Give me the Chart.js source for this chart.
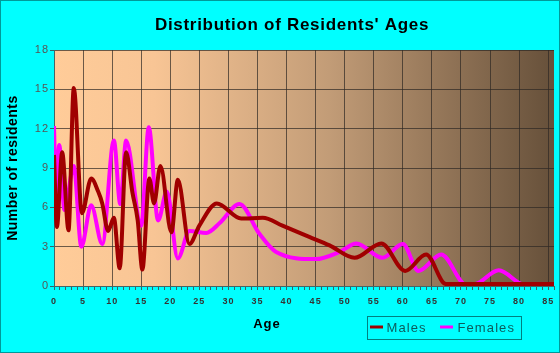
<!DOCTYPE html>
<html><head><meta charset="utf-8">
<script src="https://cdn.jsdelivr.net/npm/chart.js@4"></script>
<style>html,body{margin:0;padding:0;background:#00FFFF;}</style>
</head><body>
<canvas id="c" width="560" height="353"></canvas>
<script>
const chartTitle = "Distribution of Residents' Ages";
const xAxisTitle = "Age";
const yAxisTitle = "Number of residents";
const xMin = 0, xMax = 86, xLabelStep = 5;
const yMin = 0, yMax = 18, yStep = 3;

const maleLabel = "Males";
const maleAges   = [0, 0.5, 1.4, 2.5, 3.4, 4.8, 6.4, 7.6, 8.3, 9.3, 10.3, 11.3, 12.4, 13.5, 14.4, 15.2, 16.4, 17.2, 18.3, 20.2, 21.3, 23.3, 25, 28, 32.2, 35.9, 39.3, 43.9, 47.4, 51.7, 56.3, 60.4, 64, 67.4, 86];
const maleValues = [10.0, 4.5, 10.2, 4.25, 15.1, 5.55, 8.2, 7.2, 6.3, 4.2, 5.2, 1.35, 10.2, 7.1, 5.0, 1.25, 8.2, 6.3, 9.15, 4.1, 8.1, 3.2, 4.6, 6.3, 5.15, 5.2, 4.6, 3.75, 3.1, 2.15, 3.25, 1.15, 2.4, 0.15, 0.15];

const femaleLabel = "Females";
const femaleAges   = [0, 0.35, 0.9, 1.8, 3.4, 4.7, 6.4, 8.3, 10.3, 11.4, 12.4, 15.0, 16.3, 17.9, 19.4, 21.3, 23.3, 26.2, 28.5, 31.9, 35.3, 38.2, 45, 49.1, 52, 56.5, 60, 62.7, 66.6, 70.9, 72.5, 76.5, 80.9, 86];
const femaleValues = [12.2, 7.0, 10.75, 5.8, 9.15, 3.0, 6.15, 3.2, 11.1, 6.25, 11.1, 4.6, 12.1, 5.0, 7.2, 2.1, 4.2, 4.05, 4.8, 6.25, 4.0, 2.6, 2.05, 2.6, 3.25, 2.15, 3.2, 1.15, 2.4, 0.1, 0.15, 1.2, 0.1, 0.1];

const maleColor = '#A00000';
const femaleColor = '#FF00FF';
const gridColor = 'rgba(45,40,35,0.7)';
const FONT = "'Liberation Sans', Arial, sans-serif";

const toPts = (xs, ys) => xs.map((x, i) => ({x, y: ys[i]}));

const decor = {
  id: 'decor',
  beforeDraw(chart) {
    const {ctx, chartArea: a, width, height} = chart;
    ctx.save();
    ctx.fillStyle = '#00FFFF';
    ctx.fillRect(0, 0, width, height);
    const g = ctx.createLinearGradient(a.left, 0, a.right, 0);
    g.addColorStop(0, '#FFCC99');
    g.addColorStop(0.2, '#F8C595');
    g.addColorStop(0.55, '#C29C77');
    g.addColorStop(1, '#66503A');
    ctx.fillStyle = g;
    ctx.fillRect(a.left, a.top, a.right - a.left, a.bottom - a.top);
    ctx.restore();
    ctx.letterSpacing = '1px';
  },
  afterDraw(chart) {
    const {ctx, width, height, chartArea: a} = chart;
    ctx.save();
    // title
    ctx.letterSpacing = '0.7px';
    ctx.fillStyle = '#000';
    ctx.font = 'bold 17px ' + FONT;
    ctx.textAlign = 'center';
    ctx.textBaseline = 'alphabetic';
    ctx.fillText(chartTitle, 292, 30);
    // x title
    ctx.letterSpacing = '1px';
    ctx.font = 'bold 13px ' + FONT;
    ctx.fillText(xAxisTitle, 267, 328);
    // y title
    ctx.save();
    ctx.letterSpacing = '0.5px';
    ctx.translate(12.3, (a.top + a.bottom) / 2);
    ctx.rotate(-Math.PI / 2);
    ctx.font = 'bold 14px ' + FONT;
    ctx.fillText(yAxisTitle, 0, 5);
    ctx.restore();
    // legend
    ctx.strokeStyle = '#008080';
    ctx.lineWidth = 1;
    ctx.strokeRect(367.5, 316.5, 154, 23);
    ctx.font = '13px ' + FONT;
    ctx.textAlign = 'left';
    ctx.letterSpacing = '1.1px';
    ctx.fillStyle = '#0b5c5c';
    const items = chart.data.datasets;
    const pos = [[370, 386.5], [440, 457.5]];
    items.forEach((ds, i) => {
      ctx.strokeStyle = ds.borderColor;
      ctx.lineWidth = 3;
      ctx.beginPath();
      ctx.moveTo(pos[i][0], 327);
      ctx.lineTo(pos[i][0] + 13, 327);
      ctx.stroke();
      ctx.fillText(ds.label, pos[i][1], 332);
    });
    // outer border
    ctx.strokeStyle = '#009999';
    ctx.lineWidth = 1;
    ctx.strokeRect(0.5, 0.5, width - 1, height - 1);
    ctx.restore();
  }
};

new Chart(document.getElementById('c'), {
  type: 'line',
  data: {
    datasets: [
      {label: maleLabel, data: toPts(maleAges, maleValues), borderColor: maleColor, backgroundColor: maleColor,
       borderWidth: 4, pointRadius: 0, cubicInterpolationMode: 'monotone', fill: false, order: 0},
      {label: femaleLabel, data: toPts(femaleAges, femaleValues), borderColor: femaleColor, backgroundColor: femaleColor,
       borderWidth: 4, pointRadius: 0, cubicInterpolationMode: 'monotone', fill: false, order: 1}
    ]
  },
  options: {
    responsive: false,
    animation: false,
    devicePixelRatio: 1,
    layout: {padding: {top: 50, right: 6, left: 0, bottom: 0}},
    plugins: {legend: {display: false}, title: {display: false}, tooltip: {enabled: false}},
    scales: {
      x: {
        type: 'linear', min: xMin, max: xMax,
        afterFit: s => { s.height = 67; },
        ticks: {stepSize: 1, autoSkip: false, maxRotation: 0, padding: 6,
          callback: v => (v % xLabelStep === 0 ? String(v) : ''),
          font: {family: FONT, size: 9, weight: 'bold'}, color: '#333'},
        grid: {color: c => (c.tick && c.tick.value % xLabelStep === 0 && c.tick.value > 0 ? gridColor : 'rgba(0,0,0,0)'),
          tickColor: '#336666', tickLength: 4, lineWidth: 1},
        border: {display: true, color: '#446666', width: 1}
      },
      y: {
        min: yMin, max: yMax,
        afterFit: s => { s.width = 54; },
        ticks: {stepSize: yStep, padding: 1, font: {family: FONT, size: 11}, color: '#555'},
        grid: {color: c => (c.tick && c.tick.value > 0 ? gridColor : 'rgba(0,0,0,0)'), tickColor: '#336666', tickLength: 4},
        border: {display: true, color: '#446666', width: 1}
      }
    }
  },
  plugins: [decor]
});
</script>
</body></html>
